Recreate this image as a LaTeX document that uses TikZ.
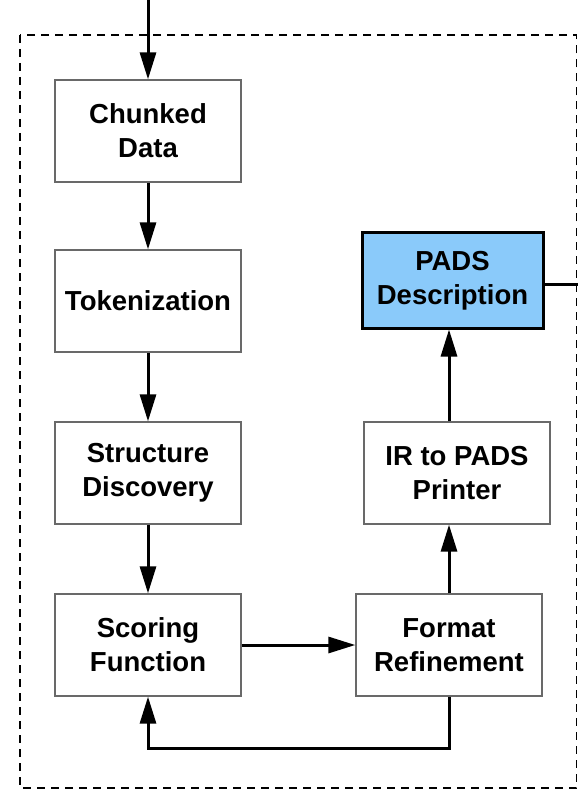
\documentclass[tikz,border=0pt]{standalone}
\usepackage{fontspec}
\setmainfont{Liberation Sans}
\usetikzlibrary{arrows.meta}
\definecolor{padsblue}{RGB}{138,202,250}
\definecolor{boxgray}{RGB}{105,105,105}
\begin{document}
\begin{tikzpicture}[x=1pt,y=-1pt,
  stagebox/.style={draw=boxgray, line width=1.3pt, fill=white, minimum width=186pt, minimum height=102pt, inner sep=0pt, align=center, font=\bfseries\fontsize{27.5}{34}\selectfont},
  outbox/.style={stagebox, draw=black, line width=3pt, fill=padsblue, minimum width=181pt, minimum height=95pt},
  flow/.style={line width=3pt, -{Triangle[length=27pt,width=16pt]}},
  link/.style={line width=3pt},
  frame/.style={line width=1.5pt, dash pattern=on 8pt off 6pt}]
\useasboundingbox (0,0) rectangle (578,791);
\draw[frame] (20,35) rectangle (576.5,788);
\coordinate (entry) at (148,0);
\coordinate (exit) at (578,284);
\node[stagebox] (chunk) at (148,131) {Chunked\\Data};
\node[stagebox] (token) at (148,301) {Tokenization};
\node[stagebox] (struct) at (148,473) {Structure\\Discovery};
\node[stagebox] (score) at (148,645) {Scoring\\Function};
\node[stagebox] (refine) at (449,645) {Format\\Refinement};
\node[stagebox] (printer) at (457,473) {IR to PADS\\Printer};
\node[outbox] (pads) at (452.5,280.5) {PADS\\Description};
\draw[flow] (entry) -- (chunk.north);
\draw[flow] (chunk) -- (token);
\draw[flow] (token) -- (struct);
\draw[flow] (struct) -- (score);
\draw[flow] (score) -- (refine);
\draw[flow] (refine.north) -- (refine.north |- printer.south);
\draw[flow] (refine.north |- printer.north) -- (refine.north |- pads.south);
\draw[flow] (refine.south) -- ++(0,52) -| (score.south);
\draw[link] (pads.east |- exit) -- (exit);
\end{tikzpicture}
\end{document}
